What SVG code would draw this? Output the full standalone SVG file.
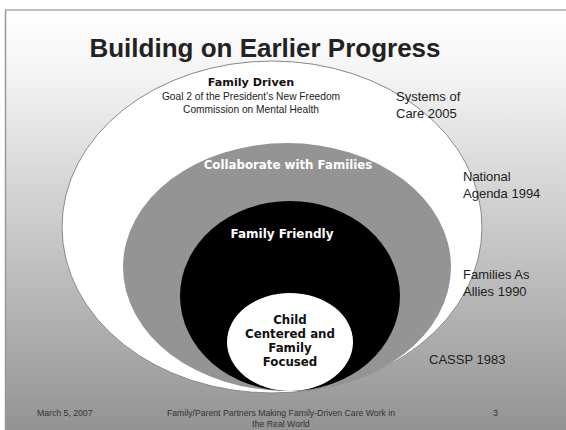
<svg xmlns="http://www.w3.org/2000/svg" width="566" height="430" viewBox="0 0 566 430">
<defs>
<linearGradient id="bg" x1="0" y1="10" x2="0" y2="430" gradientUnits="userSpaceOnUse">
<stop offset="0" stop-color="#ffffff"/>
<stop offset="0.15" stop-color="#f4f4f4"/>
<stop offset="1" stop-color="#939393"/>
</linearGradient>
<style>
.t{font-family:"Liberation Sans",Arial,sans-serif;fill:#222}
.c{font-family:"DejaVu Sans","Noto Sans",sans-serif;font-weight:bold}
.lbl{font-size:13px}
.ft{font-size:8.7px;fill:#333}
</style>
</defs>
<rect width="566" height="430" fill="#fff"/>
<rect x="6" y="10" width="560" height="420" fill="url(#bg)"/>
<line x1="5" y1="10" x2="566" y2="10" stroke="#aaa" stroke-width="1.5"/>
<line x1="5.5" y1="10" x2="5.5" y2="430" stroke="#999" stroke-width="1.5"/>
<text class="t" x="265" y="57" font-size="26" font-weight="bold" text-anchor="middle" fill="#000">Building on Earlier Progress</text>
<g id="family-driven">
<ellipse cx="272" cy="227" rx="210" ry="166" fill="#fff" stroke="#888" stroke-width="1"/>
<text class="c" x="251" y="86" font-size="11.2" text-anchor="middle" fill="#111">Family Driven</text>
<text class="t" x="251" y="100" font-size="10.2" text-anchor="middle">Goal 2 of the President’s New Freedom</text>
<text class="t" x="251" y="113" font-size="10.2" text-anchor="middle">Commission on Mental Health</text>
</g>
<g id="collaborate">
<ellipse cx="287" cy="267" rx="164" ry="124" fill="#949494"/>
<text class="c" x="288" y="169" font-size="11.8" text-anchor="middle" fill="#fff">Collaborate with Families</text>
</g>
<g id="family-friendly">
<ellipse cx="290" cy="296" rx="110" ry="95" fill="#000"/>
<text class="c" x="282" y="238" font-size="12" text-anchor="middle" fill="#fff">Family Friendly</text>
</g>
<g id="child-centered">
<ellipse cx="290" cy="342" rx="63" ry="49" fill="#fff"/>
<text class="c" x="290" y="324" font-size="11.8" text-anchor="middle" fill="#111">Child</text>
<text class="c" x="290" y="338" font-size="11.8" text-anchor="middle" fill="#111">Centered and</text>
<text class="c" x="290" y="352" font-size="11.8" text-anchor="middle" fill="#111">Family</text>
<text class="c" x="290" y="366" font-size="11.8" text-anchor="middle" fill="#111">Focused</text>
</g>
<g id="labels">
<text class="t lbl" x="396" y="101">Systems of</text>
<text class="t lbl" x="396" y="118">Care 2005</text>
<text class="t lbl" x="463" y="181">National</text>
<text class="t lbl" x="463" y="198">Agenda 1994</text>
<text class="t lbl" x="463" y="279">Families As</text>
<text class="t lbl" x="463" y="296">Allies 1990</text>
<text class="t lbl" x="429" y="364">CASSP 1983</text>
</g>
<g id="footer">
<text class="t ft" x="37" y="416">March 5, 2007</text>
<text class="t ft" x="281" y="416" text-anchor="middle">Family/Parent Partners Making Family-Driven Care Work in</text>
<text class="t ft" x="281" y="427" text-anchor="middle">the Real World</text>
<text class="t ft" x="493" y="416">3</text>
</g>
<g id="connectors"/>
</svg>
